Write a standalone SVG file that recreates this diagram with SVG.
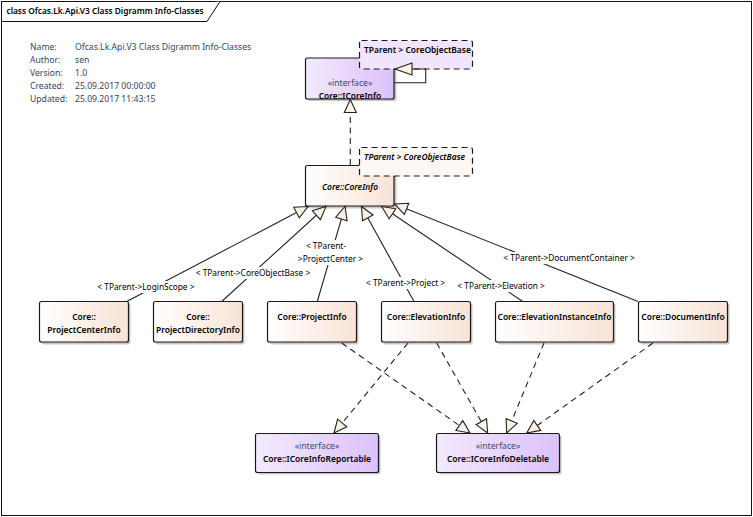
<svg xmlns="http://www.w3.org/2000/svg" width="753" height="517" viewBox="0 0 753 517">
<style>
text{font-family:"Noto Sans","Open Sans","Liberation Sans",sans-serif;font-size:8.65px;fill:#000}
.bd{font-size:8.45px;font-weight:600}
.n{fill:url(#cls);stroke:#1a1a1a;stroke-width:1.2}
.i{fill:url(#ifc);stroke:#1a1a1a;stroke-width:1.2}
.sh{fill:#000;fill-opacity:.22}
.b{font-size:8.45px;font-weight:600;text-anchor:middle}
.st{text-anchor:middle;fill:#3c4a6b}
.m{fill:#34465f}
.lb{fill:#fff}
.c{font-size:8.35px}
.g{fill:none;stroke:#222;stroke-width:1.1;marker-end:url(#tri)}
.d{stroke-dasharray:6 4.5}
.t{stroke:#1a1a1a;stroke-width:1.2;stroke-dasharray:6 4}
</style>
<defs>
<linearGradient id="cls" x1="0" x2="1" y1="0" y2="0"><stop offset="0" stop-color="#fff"/><stop offset="1" stop-color="#f8e3d6"/></linearGradient>
<linearGradient id="ifc" x1="0" x2="1" y1="0" y2="0"><stop offset="0" stop-color="#f3eafd"/><stop offset="1" stop-color="#dcc1fb"/></linearGradient>
<marker id="tri" markerUnits="userSpaceOnUse" markerWidth="16" markerHeight="16" refX="14" refY="7" orient="auto"><path d="M1 1L14 7L1 13Z" fill="#fbf1e4" stroke="#222" stroke-width="1.1"/></marker>
<marker id="tri2" markerUnits="userSpaceOnUse" markerWidth="20" markerHeight="16" refX="18" refY="7" orient="auto"><path d="M1 1L18 7L1 13Z" fill="#fbf1e4" stroke="#222" stroke-width="1.1"/></marker>
</defs>
<rect width="753" height="517" fill="#fff"/>
<g id="frame">
<rect x="1.5" y="1.5" width="750" height="514" fill="none" stroke="#111" stroke-width="1"/>
<path d="M1.5 21.5H207L220 1.5" fill="#fff" stroke="#111" stroke-width="1"/>
<text class="bd" x="6.5" y="14" style="font-size:8.3px">class Ofcas.Lk.Api.V3 Class Digramm Info-Classes</text>
</g>
<g id="notes">
<text class="m" x="30" y="50">Name:</text><text class="m" x="75" y="50">Ofcas.Lk.Api.V3 Class Digramm Info-Classes</text>
<text class="m" x="30" y="63">Author:</text><text class="m" x="75" y="63">sen</text>
<text class="m" x="30" y="76">Version:</text><text class="m" x="75" y="76">1.0</text>
<text class="m" x="30" y="89">Created:</text><text class="m" x="75" y="89">25.09.2017 00:00:00</text>
<text class="m" x="30" y="102">Updated:</text><text class="m" x="75" y="102">25.09.2017 11:43:15</text>
</g>
<g id="n-icoreinfo">
<rect class="sh" x="307.5" y="60" width="89" height="41" rx="2"/>
<rect class="i" x="305.5" y="58" width="88.5" height="41" rx="2"/>
<text class="st" x="350" y="86">«interface»</text><text class="b" x="350" y="99">Core::ICoreInfo</text>
</g>
<g id="n-icoreinfo-template">
<rect class="t" x="359.5" y="40.5" width="113" height="28.5" rx="2" fill="#f0e5fc"/>
<text class="bd" x="364" y="53">TParent &gt; CoreObjectBase</text>
</g>
<g id="n-coreinfo">
<rect class="sh" x="307.5" y="167.5" width="89" height="41" rx="2"/>
<rect class="n" x="305.5" y="165.5" width="88.5" height="40.5" rx="2"/>
<text class="b" x="350" y="190" font-style="italic">Core::CoreInfo</text>
</g>
<g id="n-coreinfo-template">
<rect class="t" x="359.5" y="147.5" width="113" height="28.5" rx="2" fill="#fdf8f4"/>
<text class="bd" x="364" y="160" font-style="italic">TParent &gt; CoreObjectBase</text>
</g>
<g id="n-projectcenterinfo">
<rect class="sh" x="41.5" y="303.5" width="89" height="41" rx="2"/>
<rect class="n" x="39.5" y="301.5" width="89" height="40.5" rx="2"/>
<text class="b" x="84" y="320">Core::</text><text class="b" x="84" y="333">ProjectCenterInfo</text>
</g>
<g id="n-projectdirectoryinfo">
<rect class="sh" x="155.5" y="303.5" width="89" height="41" rx="2"/>
<rect class="n" x="153.5" y="301.5" width="89" height="40.5" rx="2"/>
<text class="b" x="198" y="320">Core::</text><text class="b" x="198" y="333">ProjectDirectoryInfo</text>
</g>
<g id="n-projectinfo">
<rect class="sh" x="269.5" y="303.5" width="89" height="41" rx="2"/>
<rect class="n" x="267.5" y="301.5" width="89" height="40.5" rx="2"/>
<text class="b" x="312" y="320">Core::ProjectInfo</text>
</g>
<g id="n-elevationinfo">
<rect class="sh" x="383.5" y="303.5" width="89" height="41" rx="2"/>
<rect class="n" x="381.5" y="301.5" width="89" height="40.5" rx="2"/>
<text class="b" x="426" y="320">Core::ElevationInfo</text>
</g>
<g id="n-elevationinstanceinfo">
<rect class="sh" x="497.5" y="303.5" width="118" height="41" rx="2"/>
<rect class="n" x="495.5" y="301.5" width="118" height="40.5" rx="2"/>
<text class="b" x="554.5" y="320">Core::ElevationInstanceInfo</text>
</g>
<g id="n-documentinfo">
<rect class="sh" x="640.5" y="303.5" width="89" height="41" rx="2"/>
<rect class="n" x="638.5" y="301.5" width="89" height="40.5" rx="2"/>
<text class="b" x="683" y="320">Core::DocumentInfo</text>
</g>
<g id="n-icoreinforeportable">
<rect class="sh" x="257.5" y="435.5" width="123" height="39" rx="2"/>
<rect class="i" x="255.5" y="433.5" width="123" height="39" rx="2"/>
<text class="st" x="317" y="449">«interface»</text><text class="b" x="317" y="462">Core::ICoreInfoReportable</text>
</g>
<g id="n-icoreinfodeletable">
<rect class="sh" x="438.5" y="435.5" width="123" height="39" rx="2"/>
<rect class="i" x="436.5" y="433.5" width="123" height="39" rx="2"/>
<text class="st" x="498" y="449">«interface»</text><text class="b" x="498" y="462">Core::ICoreInfoDeletable</text>
</g>
<g id="connectors">
<path class="g" style="marker-end:url(#tri2)" d="M394 82.7H425.7V69H395"/>
<path class="g d" d="M350.3 165V99.5"/>
<path class="g" d="M126.7 301.5L308 206.5"/>
<path class="g" d="M221.7 301.5L326 206.5"/>
<path class="g" d="M317.3 301.5L345 206.5"/>
<path class="g" d="M414 301.5L361.5 206.5"/>
<path class="g" d="M522.7 301.5L381.7 206.5"/>
<path class="g" d="M638 301.5L394.5 204"/>
<path class="g d" d="M341.7 343L470 433"/>
<path class="g d" d="M408 343L334 433"/>
<path class="g d" d="M436.7 343L487.7 433"/>
<path class="g d" d="M544 343L506.7 433"/>
<path class="g d" d="M653 343L526.7 433"/>
</g>
<g id="connector-labels">
<rect class="lb" x="97" y="281" width="98" height="12"/><text class="c" x="97.3" y="290">&lt; TParent-&gt;LoginScope &gt;</text>
<rect class="lb" x="195" y="267" width="117" height="12"/><text class="c" x="195.7" y="276">&lt; TParent-&gt;CoreObjectBase &gt;</text>
<rect class="lb" x="298" y="240" width="65" height="25"/><text class="c" x="326" y="249" text-anchor="middle">&lt; TParent-</text><text class="c" x="330.5" y="262" text-anchor="middle">&gt;ProjectCenter &gt;</text>
<rect class="lb" x="366" y="277" width="80" height="12"/><text class="c" x="366" y="286">&lt; TParent-&gt;Project &gt;</text>
<rect class="lb" x="457" y="280" width="90" height="12"/><text class="c" x="457.3" y="289">&lt; TParent-&gt;Elevation &gt;</text>
<rect class="lb" x="503" y="252" width="132" height="12"/><text class="c" x="503.3" y="261">&lt; TParent-&gt;DocumentContainer &gt;</text>
</g>
</svg>
